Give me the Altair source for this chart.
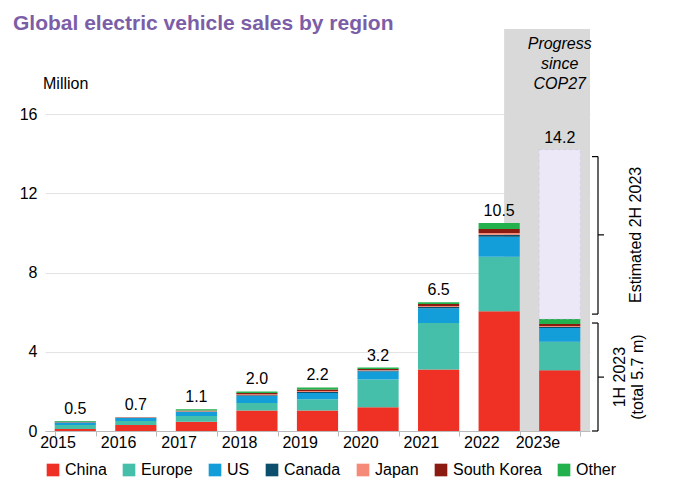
import altair as alt
import pandas as pd

years = ["2015", "2016", "2017", "2018", "2019", "2020", "2021", "2022", "2023e"]
regions = ["China", "Europe", "US", "Canada", "Japan", "South Korea", "Other"]
colors = ["#ee3124", "#45bfaa", "#139dd9", "#0b4f6c", "#f58a78", "#8b1a10", "#22b14c"]

china = [0.10, 0.30, 0.47, 1.03, 1.03, 1.20, 3.10, 6.05, 3.07]
europe = [0.20, 0.20, 0.29, 0.38, 0.57, 1.40, 2.35, 2.75, 1.43]
us = [0.12, 0.15, 0.20, 0.36, 0.32, 0.40, 0.75, 1.00, 0.70]
canada = [0.02, 0.02, 0.03, 0.04, 0.05, 0.05, 0.06, 0.10, 0.05]
japan = [0.02, 0.01, 0.03, 0.05, 0.05, 0.03, 0.05, 0.10, 0.05]
korea = [0.01, 0.01, 0.02, 0.06, 0.08, 0.05, 0.10, 0.20, 0.10]
other = [0.03, 0.01, 0.06, 0.08, 0.10, 0.07, 0.09, 0.30, 0.25]
totals = ["0.5", "0.7", "1.1", "2.0", "2.2", "3.2", "6.5", "10.5", "14.2"]
total_vals = [0.5, 0.7, 1.1, 2.0, 2.2, 3.2, 6.5, 10.5, 14.2]
h1_2023 = 5.65
h2_2023 = 14.2

rows = []
for reg, vals in zip(regions, [china, europe, us, canada, japan, korea, other]):
    for y, v in zip(years, vals):
        rows.append({"year": y, "region": reg, "value": v, "order": regions.index(reg)})
df = pd.DataFrame(rows)
tot = pd.DataFrame({"year": years, "total": total_vals, "label": totals})

W, H = 545, 317
FONT = "Liberation Sans"
xenc = alt.X("year:N", sort=years, title=None,
             scale=alt.Scale(paddingInner=0.32, paddingOuter=0.16),
             axis=alt.Axis(labelAngle=0, labelFontSize=16, labelColor="#000",
                           domainColor="#bbb", tickColor="#bbb", tickBand="extent",
                           labelPadding=6))

band = alt.Chart(pd.DataFrame({"a": [1]})).mark_rect(color="#d9d9d9").encode(
    x=alt.X(datum="2022", bandPosition=0.62, type="nominal"),
    x2=alt.value(W),
    y=alt.value(-85),
    y2=alt.value(H),
)

bars = alt.Chart(df).mark_bar().encode(
    x=xenc,
    y=alt.Y("sum(value):Q", title=None,
            scale=alt.Scale(domain=[0, 16]),
            axis=alt.Axis(values=list(range(0, 17, 2)), labelFontSize=16, labelColor="#000",
                          gridColor="#e3e3e3", domain=False, ticks=False, labelPadding=8)),
    color=alt.Color("region:N", sort=regions,
                    scale=alt.Scale(domain=regions, range=colors),
                    legend=alt.Legend(title=None, orient="bottom", direction="horizontal",
                                      columns=7, symbolType="square", symbolSize=160,
                                      labelFontSize=16, labelFont=FONT, columnPadding=14,
                                      symbolStrokeWidth=0, offset=12)),
    order=alt.Order("order:Q"),
)

est = pd.DataFrame({"year": ["2023e"], "lo": [h1_2023], "hi": [h2_2023]})
hatch = alt.Chart(est).mark_bar(color="#ece8f7", stroke="#c8bfe6", strokeWidth=0.5,
                                strokeDash=[3, 3]).encode(
    x=alt.X("year:N", sort=years), y="lo:Q", y2="hi:Q")

labels = alt.Chart(tot).mark_text(dy=-12, fontSize=16, font=FONT, color="#000").encode(
    x=alt.X("year:N", sort=years), y="total:Q", text="label:N")

br = pd.DataFrame({"lo": [0.0, 5.9], "hi": [5.45, 13.85]})
bx = W + 8
vlines = alt.Chart(br).mark_rule(color="#000", strokeWidth=1.2).encode(
    x=alt.value(bx), y="lo:Q", y2="hi:Q")
ends = pd.DataFrame({"v": [0.0, 5.45, 5.9, 13.85]})
endticks = alt.Chart(ends).mark_rule(color="#000", strokeWidth=1.2).encode(
    x=alt.value(bx - 6), x2=alt.value(bx), y="v:Q")
mids = pd.DataFrame({"v": [2.72, 9.9]})
midticks = alt.Chart(mids).mark_rule(color="#000", strokeWidth=1.2).encode(
    x=alt.value(bx), x2=alt.value(bx + 6), y="v:Q")

side = pd.DataFrame({"v": [9.9, 2.72, 2.72], "t": ["Estimated 2H 2023", "1H 2023", "(total 5.7 m)"],
                     "dx": [bx + 38, bx + 22, bx + 40]})
sidetext = alt.Chart(side).mark_text(angle=270, fontSize=16, font=FONT, color="#000").encode(
    x=alt.X("dx:Q", scale=None), y="v:Q", text="t:N")

notes = pd.DataFrame({"t": ["Progress", "since", "COP27"], "yy": [-70, -50, -30]})
note = alt.Chart(notes).mark_text(fontSize=16, font=FONT, fontStyle="italic", color="#000").encode(
    x=alt.X(datum="2023e", type="nominal"), y=alt.Y("yy:Q", scale=None), text="t:N")

million = alt.Chart(pd.DataFrame({"t": ["Million"]})).mark_text(
    fontSize=16, font=FONT, align="left", color="#000").encode(
    x=alt.value(-2), y=alt.value(-30), text="t:N")

title = alt.Chart(pd.DataFrame({"t": ["Global electric vehicle sales by region"]})).mark_text(
    fontSize=21, font=FONT, fontWeight="bold", align="left", color="#7b5ea7").encode(
    x=alt.value(-32), y=alt.value(-90), text="t:N")

chart = alt.layer(band, bars, hatch, labels, vlines, endticks, midticks, sidetext,
                  note, million, title).properties(
    width=W, height=H
).configure_view(stroke=None).configure_axis(labelFont=FONT)

chart.save("out.html", embed_options={"renderer": "svg", "actions": False})
